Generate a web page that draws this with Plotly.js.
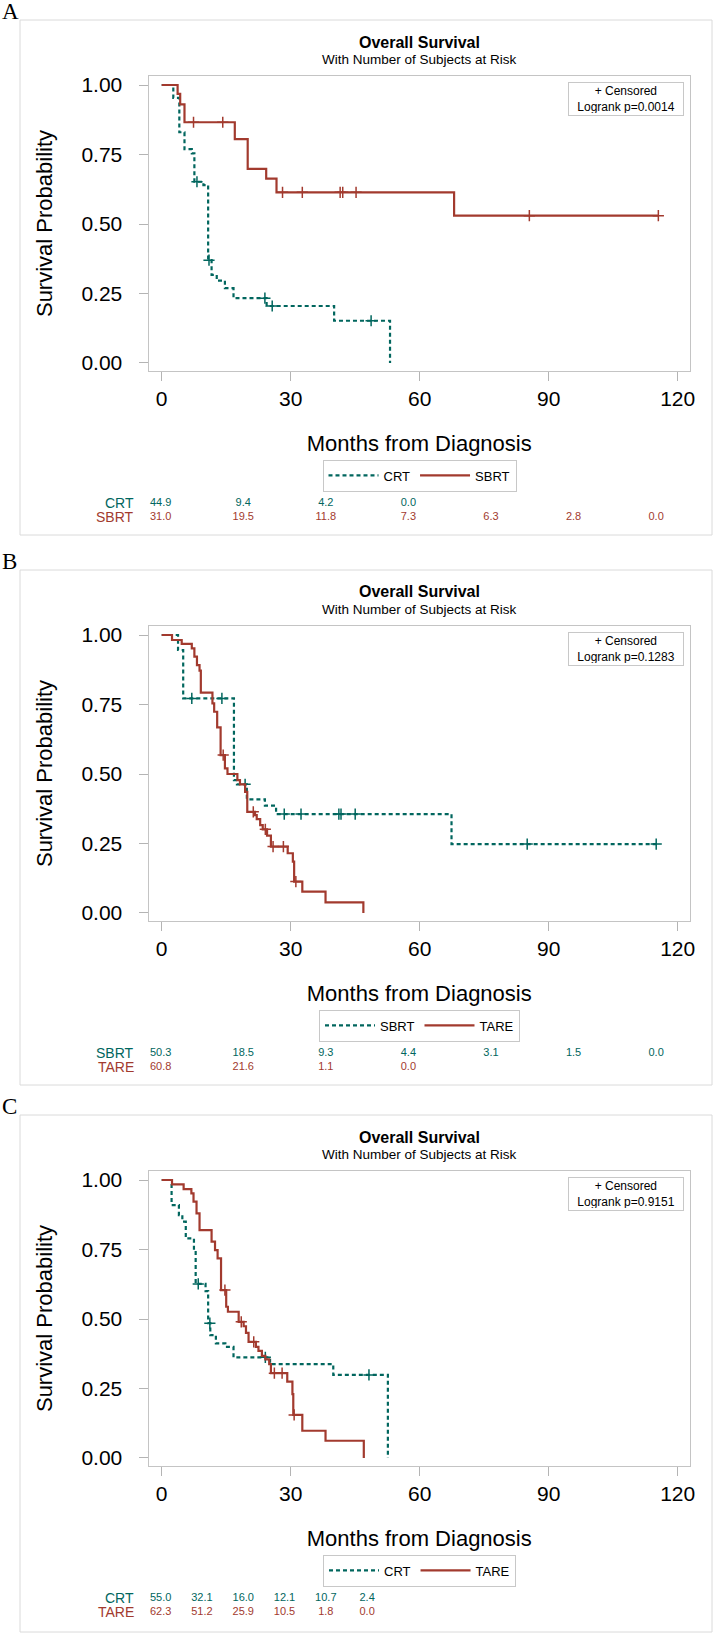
<!DOCTYPE html>
<html>
<head>
<meta charset="utf-8">
<script src="https://cdn.plot.ly/plotly-3.0.1.min.js"></script>
<style>
body{margin:0;background:#fff}
#chart{width:714px;height:1635px}
</style>
</head>
<body>
<div id="chart"></div>
<script>
// ---------------- DATA ----------------
const panelLetters = ['A', 'B', 'C'];
const logrankP = ['0.0014', '0.1283', '0.9151'];
const groupNamesA = ['CRT', 'SBRT'];
const groupNamesB = ['SBRT', 'TARE'];
const groupNamesC = ['CRT', 'TARE'];
const xTicks = [0, 30, 60, 90, 120];
const yTicks = [0, 0.25, 0.5, 0.75, 1];

// Panel A
const aCrtTime = [0, 2.7, 4.1, 5.3, 7.0, 7.6, 9.7, 10.8, 11.6, 12.8, 14.7, 16.7, 24.4, 40.1, 53.1];
const aCrtSurv = [1, 0.954, 0.830, 0.769, 0.754, 0.652, 0.640, 0.370, 0.317, 0.296, 0.269, 0.233, 0.205, 0.152, 0];
const aCrtCens = [8.2, 11.0, 24.0, 25.7, 48.7];
const aSbrtTime = [0, 3.7, 4.3, 5.3, 17.0, 20.0, 24.3, 26.7, 68.0, 115.5];
const aSbrtSurv = [1, 0.968, 0.930, 0.866, 0.805, 0.698, 0.663, 0.614, 0.530, 0.530];
const aSbrtCens = [7.4, 14.2, 28.1, 32.7, 41.5, 42.1, 45.2, 85.5, 115.5];
const aRiskTime1 = [0, 20, 40, 60];
const aRiskVals1 = ['44.9', '9.4', '4.2', '0.0'];
const aRiskTime2 = [0, 20, 40, 60, 80, 100, 120];
const aRiskVals2 = ['31.0', '19.5', '11.8', '7.3', '6.3', '2.8', '0.0'];

// Panel B
const bSbrtTime = [0, 3.8, 5.0, 16.8, 17.5, 19.8, 24.0, 26.6, 67.4, 115.0];
const bSbrtSurv = [1, 0.946, 0.772, 0.478, 0.463, 0.409, 0.386, 0.356, 0.248, 0.248];
const bSbrtCens = [7.0, 14.0, 19.4, 28.5, 32.4, 41.2, 41.7, 45.0, 85.0, 115.0];
const bTareTime = [0, 2.4, 4.65, 7.0, 7.6, 8.2, 8.8, 9.1, 11.8, 12.2, 12.9, 13.7, 14.7, 15.3, 17.6, 18.2, 19.4, 19.9, 21.7, 22.1, 22.9, 23.5, 24.5, 25.4, 29.3, 30.5, 30.8, 32.7, 38.1, 46.9];
const bTareSurv = [1, 0.982, 0.968, 0.952, 0.922, 0.892, 0.872, 0.793, 0.754, 0.724, 0.668, 0.568, 0.520, 0.500, 0.478, 0.463, 0.436, 0.364, 0.352, 0.338, 0.316, 0.301, 0.278, 0.239, 0.215, 0.185, 0.113, 0.077, 0.038, 0];
const bTareCens = [14.3, 21.3, 24.1, 25.9, 28.3, 31.2];
const bRiskTime1 = [0, 20, 40, 60, 80, 100, 120];
const bRiskVals1 = ['50.3', '18.5', '9.3', '4.4', '3.1', '1.5', '0.0'];
const bRiskTime2 = [0, 20, 40, 60];
const bRiskVals2 = ['60.8', '21.6', '1.1', '0.0'];

// Panel C
const cCrtTime = [0, 2.3, 4.0, 4.8, 5.6, 7.5, 7.9, 10.2, 10.8, 11.3, 12.6, 14.8, 16.7, 25.2, 39.9, 52.6];
const cCrtSurv = [1, 0.910, 0.874, 0.850, 0.790, 0.748, 0.626, 0.600, 0.485, 0.442, 0.412, 0.400, 0.362, 0.338, 0.299, 0];
const cCrtCens = [8.5, 11.2, 24.1, 48.2];
const cTareTime = [0, 2.4, 5.1, 6.9, 7.4, 8.1, 8.8, 11.6, 12.4, 13.0, 13.8, 15.0, 15.4, 17.9, 19.05, 19.6, 20.2, 21.9, 22.5, 23.3, 24.1, 25.0, 25.4, 29.2, 30.4, 30.6, 32.7, 38.1, 47.0];
const cTareSurv = [1, 0.984, 0.967, 0.952, 0.922, 0.880, 0.820, 0.778, 0.748, 0.718, 0.604, 0.544, 0.526, 0.490, 0.474, 0.450, 0.418, 0.400, 0.385, 0.367, 0.355, 0.338, 0.305, 0.275, 0.230, 0.155, 0.098, 0.062, 0];
const cTareCens = [14.7, 18.5, 21.4, 26.2, 28.0, 30.8];
const cRiskTime1 = [0, 10, 20, 30, 40, 50];
const cRiskVals1 = ['55.0', '32.1', '16.0', '12.1', '10.7', '2.4'];
const cRiskTime2 = [0, 10, 20, 30, 40, 50];
const cRiskVals2 = ['62.3', '51.2', '25.9', '10.5', '1.8', '0.0'];

// ---------------- LAYOUT HELPERS ----------------
const W = 714, H = 1635;
const GREEN = '#01665E', RED = '#A23A2E';
const FONT = 'Liberation Sans, Arial, Helvetica, sans-serif';
const panelTops = [20, 570, 1115];
const xp = px => px / W;
const yp = py => 1 - py / H;

function survAt(times, surv, c) {
  let v = surv[0];
  for (let k = 0; k < times.length; k++) { if (times[k] <= c) v = surv[k]; }
  return v;
}

const panels = [
  {names: groupNamesA, curves: [[aCrtTime, aCrtSurv, aCrtCens], [aSbrtTime, aSbrtSurv, aSbrtCens]],
   risk: [[aRiskTime1, aRiskVals1], [aRiskTime2, aRiskVals2]]},
  {names: groupNamesB, curves: [[bSbrtTime, bSbrtSurv, bSbrtCens], [bTareTime, bTareSurv, bTareCens]],
   risk: [[bRiskTime1, bRiskVals1], [bRiskTime2, bRiskVals2]]},
  {names: groupNamesC, curves: [[cCrtTime, cCrtSurv, cCrtCens], [cTareTime, cTareSurv, cTareCens]],
   risk: [[cRiskTime1, cRiskVals1], [cRiskTime2, cRiskVals2]]}
];

const traces = [];
const layout = {
  width: W, height: H,
  margin: {l: 0, r: 0, t: 0, b: 0},
  paper_bgcolor: '#fff', plot_bgcolor: '#fff',
  font: {family: FONT, color: '#000'},
  showlegend: true,
  annotations: [], shapes: []
};

panels.forEach((p, i) => {
  const T = panelTops[i];
  const mainN = i * 2 + 1, riskN = i * 2 + 2;
  const xm = mainN === 1 ? 'x' : 'x' + mainN, ym = mainN === 1 ? 'y' : 'y' + mainN;
  const xr = 'x' + riskN, yr = 'y' + riskN;
  const legId = i === 0 ? 'legend' : 'legend' + (i + 1);
  const colors = [GREEN, RED];
  const dashes = ['4px,3px', 'solid'];

  p.curves.forEach((c, g) => {
    traces.push({
      x: c[0], y: c[1], mode: 'lines', name: p.names[g],
      line: {shape: 'hv', color: colors[g], width: 2.2, dash: dashes[g]},
      xaxis: xm, yaxis: ym, legend: legId, hoverinfo: 'skip'
    });
    traces.push({
      x: c[2], y: c[2].map(t => survAt(c[0], c[1], t)), mode: 'markers',
      marker: {symbol: 'cross-thin', size: 8, line: {width: 1.5, color: colors[g]}, color: colors[g]},
      xaxis: xm, yaxis: ym, showlegend: false, hoverinfo: 'skip'
    });
    traces.push({
      x: p.risk[g][0], y: p.risk[g][0].map(() => g), mode: 'text', text: p.risk[g][1],
      textfont: {size: 11, color: colors[g], family: FONT}, textposition: 'middle center',
      xaxis: xr, yaxis: yr, showlegend: false, hoverinfo: 'skip'
    });
  });

  const xdom = [xp(148.5), xp(690)];
  layout[mainN === 1 ? 'xaxis' : 'xaxis' + mainN] = {
    domain: xdom, range: [-3.07, 122.86], anchor: ym,
    tickvals: xTicks, ticks: 'outside', ticklen: 9, tickcolor: '#b4b4b4', tickwidth: 1,
    ticklabelstandoff: 0,
    showline: true, mirror: true, linecolor: '#c4c4c4', linewidth: 1,
    showgrid: false, zeroline: false, fixedrange: true,
    tickfont: {size: 21, color: '#000', family: FONT},
    title: {text: 'Months from Diagnosis', font: {size: 22, color: '#000', family: FONT}, standoff: 26}
  };
  layout[mainN === 1 ? 'yaxis' : 'yaxis' + mainN] = {
    domain: [yp(T + 351), yp(T + 56)], range: [-0.0288, 1.0324], anchor: xm,
    tickvals: yTicks, tickformat: '.2f', ticks: 'outside', ticklen: 9, tickcolor: '#b4b4b4', tickwidth: 1,
    ticklabelstandoff: 12,
    showline: true, mirror: true, linecolor: '#c4c4c4', linewidth: 1,
    showgrid: false, zeroline: false, fixedrange: true,
    tickfont: {size: 21, color: '#000', family: FONT},
    title: {text: 'Survival Probability', font: {size: 22, color: '#000', family: FONT}, standoff: 22}
  };
  layout['xaxis' + riskN] = {domain: xdom, range: [-2.95, 128.2], anchor: yr, visible: false, fixedrange: true};
  layout['yaxis' + riskN] = {domain: [yp(T + 504), yp(T + 476)], range: [1.5, -0.5], anchor: xr, visible: false, fixedrange: true};

  layout[legId] = {
    x: xp(419.5), xanchor: 'center', y: yp(T + 455.5), yanchor: 'middle',
    orientation: 'h', bordercolor: '#c8c8c8', borderwidth: 1, bgcolor: '#fff',
    font: {size: 13, color: '#000', family: FONT}, itemwidth: 50
  };

  // panel frame
  layout.shapes.push({type: 'rect', xref: 'paper', yref: 'paper',
    x0: xp(20), x1: xp(712), y0: yp(T + (i === 2 ? 517 : 515)), y1: yp(T),
    line: {color: '#dadada', width: 1}});

  // panel letter
  layout.annotations.push({xref: 'paper', yref: 'paper', x: xp(0), xanchor: 'left',
    y: yp(T - 9), yanchor: 'middle', text: panelLetters[i], showarrow: false,
    font: {family: 'Liberation Serif, Times New Roman, serif', size: 23, color: '#000'}});
  // titles
  layout.annotations.push({xref: 'paper', yref: 'paper', x: xp(419), y: yp(T + 22), yanchor: 'middle',
    text: '<b>Overall Survival</b>', showarrow: false, font: {size: 16, color: '#000', family: FONT}});
  layout.annotations.push({xref: 'paper', yref: 'paper', x: xp(419), y: yp(T + 39), yanchor: 'middle',
    text: 'With Number of Subjects at Risk', showarrow: false, font: {size: 13.5, color: '#000', family: FONT}});
  // inset box
  layout.annotations.push({xref: 'paper', yref: 'paper', x: xp(625.5), y: yp(T + 79), xanchor: 'center', yanchor: 'middle',
    text: '+ Censored<br>Logrank p=' + logrankP[i], showarrow: false, align: 'center',
    font: {size: 12, color: '#000', family: FONT}, bordercolor: '#c8c8c8', borderwidth: 1, borderpad: 2,
    bgcolor: '#fff', width: 110, height: 28});
  // risk row labels
  p.names.forEach((nm, g) => {
    layout.annotations.push({xref: 'paper', yref: 'paper', x: xp(136), xanchor: 'right',
      y: yp(T + 483 + g * 14), yanchor: 'middle', text: nm, showarrow: false,
      font: {size: 14, color: colors[g], family: FONT}});
  });
});

Plotly.newPlot('chart', traces, layout, {staticPlot: true, displayModeBar: false});
</script>
</body>
</html>
